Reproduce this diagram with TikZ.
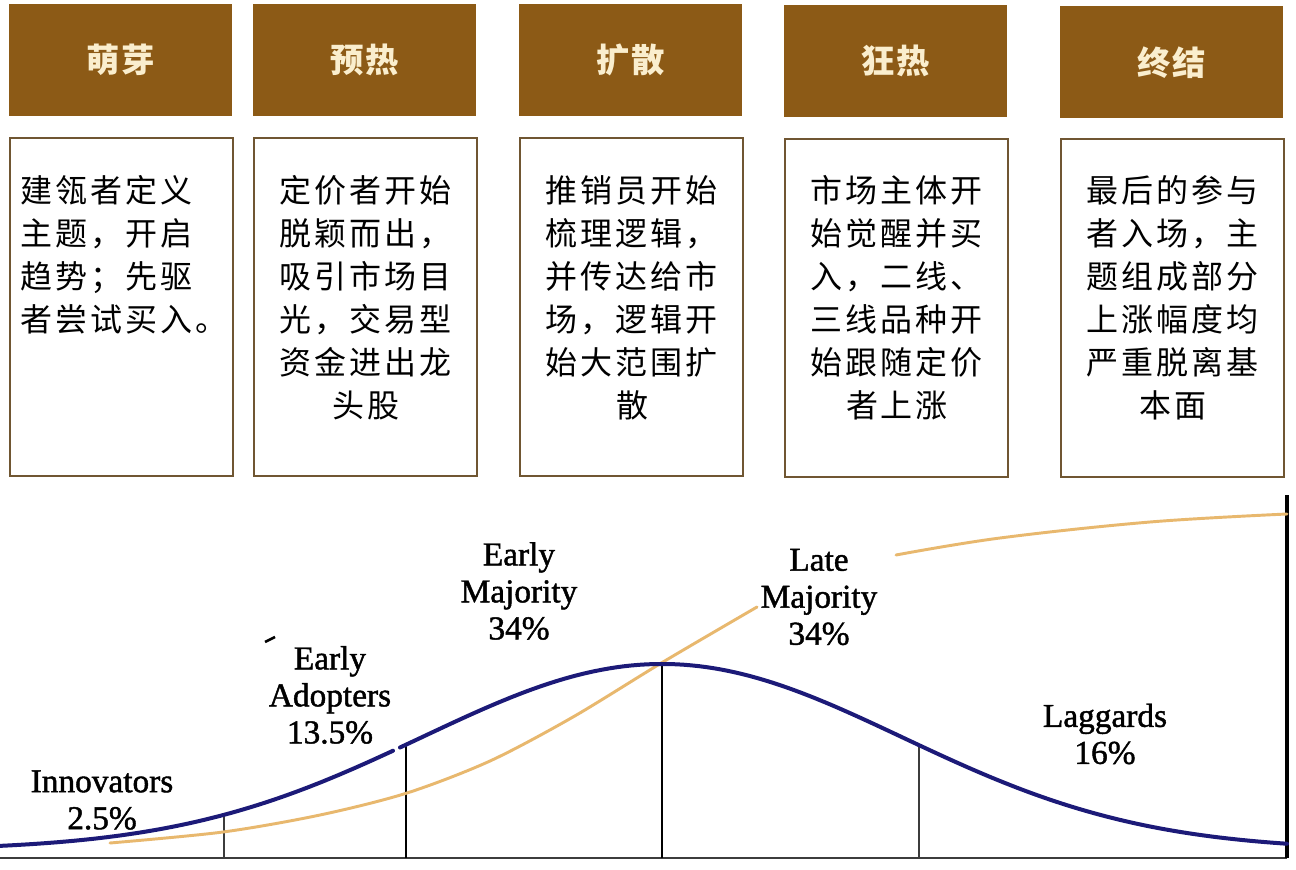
\documentclass[tikz,border=0pt]{standalone}
\usepackage{fontspec}
\setmainfont{Liberation Serif}
\newfontfamily\lblfont[FakeBold=1.3]{Liberation Serif}
\newfontfamily\cjkbody[LetterSpace=9.4]{Noto Sans CJK SC}
\newfontfamily\cjkhead[LetterSpace=6]{Noto Sans CJK SC}
\definecolor{hbrown}{RGB}{140,90,22}
\definecolor{hcream}{RGB}{250,238,206}
\definecolor{bborder}{RGB}{112,86,50}
\definecolor{navyc}{RGB}{28,26,120}
\definecolor{orangec}{RGB}{232,184,110}
\definecolor{axisc}{RGB}{60,60,60}
\begin{document}
\begin{tikzpicture}[x=0.75pt,y=-0.75pt,
  head/.style={fill=hbrown, draw=none, minimum width=167.25pt, minimum height=84pt,
    inner sep=0pt, anchor=north west, text=hcream,
    font=\cjkhead\bfseries\fontsize{25}{28}\selectfont},
  descbox/.style={draw=bborder, line width=1.5pt, fill=white, minimum width=167.25pt,
    minimum height=253.5pt, inner sep=0pt, anchor=north west},
  desctext/.style={inner sep=0pt, font=\cjkbody\fontsize{24}{32.25}\selectfont, text=black},
  lbl/.style={inner sep=0pt, align=center, font=\lblfont\fontsize{25}{27.75}\selectfont, text=black},
  bellline/.style={draw=navyc, line width=3pt, line cap=round},
  cumline/.style={draw=orangec, line width=2.2pt, line cap=round},
  thickv/.style={draw=black, line width=2.2pt},
  thinv/.style={draw=axisc, line width=1.1pt}
]
\useasboundingbox[fill=white] (0,0) rectangle (1296,870);

% header boxes
\node[head] (h1) at (9,4) {萌芽};
\node[head] (h2) at (253,4) {预热};
\node[head] (h3) at (519,4) {扩散};
\node[head] (h4) at (784,5) {狂热};
\node[head] (h5) at (1060,6) {终结};

% description boxes
\node[descbox] (b1) at (9,137) {};
\node[descbox] (b2) at (253,137) {};
\node[descbox] (b3) at (519,137) {};
\node[descbox] (b4) at (784,138) {};
\node[descbox] (b5) at (1060,138) {};

\node[desctext, align=left, anchor=north west] (t1) at (20,175)
  {建瓴者定义\\主题，开启\\趋势；先驱\\者尝试买入。};
\node[desctext, align=center, anchor=north] (t2) at (366,175)
  {定价者开始\\脱颖而出，\\吸引市场目\\光，交易型\\资金进出龙\\头股};
\node[desctext, align=center, anchor=north] (t3) at (632,175)
  {推销员开始\\梳理逻辑，\\并传达给市\\场，逻辑开\\始大范围扩\\散};
\node[desctext, align=center, anchor=north] (t4) at (897,175)
  {市场主体开\\始觉醒并买\\入，二线、\\三线品种开\\始跟随定价\\者上涨};
\node[desctext, align=center, anchor=north] (t5) at (1173,175)
  {最后的参与\\者入场，主\\题组成部分\\上涨幅度均\\严重脱离基\\本面};

% chart axes
\draw[axisc, line width=1.5pt] (0,858) -- (1287,858);
\draw[black, line width=2.4pt] (1287,495) -- (1287,858);

% segment lines
\draw[thinv] (224,816) -- (224,858);
\draw[thickv] (406,744) -- (406,858);
\draw[thickv] (662,664) -- (662,858);
\draw[thinv] (919,745) -- (919,858);

% cumulative curve
\draw[cumline] plot[smooth, tension=0.5] coordinates
  {(110,843) (223,832) (320,815) (407,793) (490,761) (573,717) (663,662) (757,607)};
\draw[cumline] plot[smooth, tension=0.6] coordinates
  {(896,555) (1000,538) (1150,522) (1287,514)};

% bell curve
\draw[bellline] plot[domain=0:393, samples=70] (\x,{850-186*exp(-0.5*((\x-662)/240)^2)});
\draw[bellline] plot[domain=400:1287, samples=120] (\x,{850-186*exp(-0.5*((\x-662)/240)^2)});

% small mark
\draw[black, line width=2pt] (265,642) -- (275,637);

% labels
\node[lbl] (l1) at (102,800) {Innovators\\2.5\%};
\node[lbl] (l2) at (330,695) {Early\\Adopters\\13.5\%};
\node[lbl] (l3) at (519,591) {Early\\Majority\\34\%};
\node[lbl] (l4) at (819,597) {Late\\Majority\\34\%};
\node[lbl] (l5) at (1105,734) {Laggards\\16\%};
\end{tikzpicture}
\end{document}
